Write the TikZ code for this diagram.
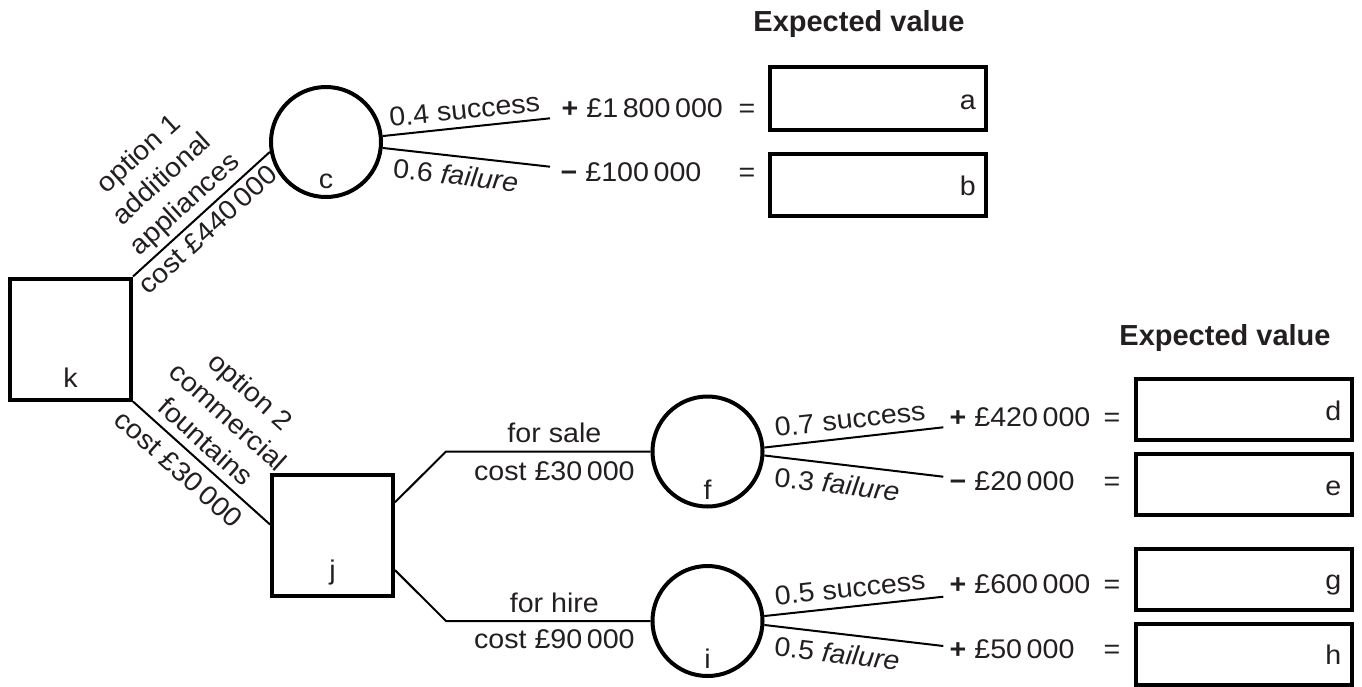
\documentclass[tikz,border=0pt]{standalone}
\usepackage{fontspec}
\setmainfont{Liberation Sans}[FakeStretch=1.06]
\newfontfamily\titlefont{Liberation Sans}
\newcommand\ts{\hspace{0.17em}}
\definecolor{ink}{RGB}{35,31,32}
\begin{document}
\begin{tikzpicture}[x=1pt,y=-1pt,
  every node/.style={font=\fontsize{27}{34}\selectfont, inner sep=0pt, text=ink},
  decision/.style={draw=black, rectangle, line width=4pt, minimum size=121pt},
  chance/.style={draw=black, circle, line width=4pt, minimum size=110pt},
  evbox/.style={draw=black, rectangle, line width=4pt, minimum width=216pt, minimum height=61pt},
  conn/.style={draw=black, line width=2pt},
  title/.style={font=\titlefont\fontsize{29}{34}\selectfont\bfseries, anchor=base},
  val/.style={anchor=base west},
  eqs/.style={anchor=base},
  letter/.style={anchor=base},
  boxletter/.style={anchor=base east}
]
\useasboundingbox (0,0) rectangle (1362,686);

% titles
\node[title] (t1) at (859,31.5) {Expected value};
\node[title] (t2) at (1225,345) {Expected value};

% decision and chance nodes
\node[decision] (k) at (70.5,339) {};
\node[decision] (j) at (332.5,535.5) {};
\node[chance] (c) at (326,142) {};
\node[chance] (f) at (707.5,451.5) {};
\node[chance] (i) at (707.5,621) {};

\node[letter] (kl) at ([yshift=14pt]k.south) {k};
\node[letter] (jl) at ([yshift=19pt]j.south) {j};
\node[letter] (cl) at ([yshift=11pt]c.south) {c};
\node[letter] (fl) at ([yshift=9.5pt]f.south) {f};
\node[letter] (il) at ([yshift=10pt]i.south) {i};

% expected value boxes
\node[evbox, minimum height=63pt] (a) at (878,98.5) {};
\node[evbox, minimum height=62pt] (b) at (878,185) {};
\node[evbox] (d) at (1243.5,409.5) {};
\node[evbox] (e) at (1243.5,484.5) {};
\node[evbox] (g) at (1243.5,579) {};
\node[evbox] (h) at (1243.5,654) {};
\foreach \bx in {a,b,d,e,g,h}
  \node[boxletter] (\bx l) at ([xshift=-12pt,yshift=-10.5pt]\bx.east) {\bx};

% options from k
\draw[conn] (k.north east) --
  node[pos=0.47, sloped, above=4pt, align=center] (o1) {option 1\\additional\\appliances}
  node[pos=0.47, sloped, below=5pt] (o1c) {cost £440\ts000} (c.190);
\draw[conn] (k.south east) --
  node[pos=0.44, sloped, above=8pt, align=center] (o2) {option 2\\commercial\\fountains}
  node[pos=0.43, sloped, below=9pt] (o2c) {cost £30\ts000} (j.170);

% j branches
\coordinate (bx) at (446,0);
\draw[conn] (j.28) -- (bx |- f.west) --
  node[pos=0.53, above=7.5pt] (fs) {for sale}
  node[pos=0.53, below=9pt] (fsc) {cost £30\ts000} (f.west);
\draw[conn] (j.-29) -- (bx |- i.west) --
  node[pos=0.53, above=7.5pt] (fh) {for hire}
  node[pos=0.53, below=8pt] (fhc) {cost £90\ts000} (i.west);

% outcome end points
\coordinate (ca) at (550,118.3);
\coordinate (cb) at (550,166.7);
\coordinate (fa) at (943.3,427.3);
\coordinate (fb) at (943.3,476.7);
\coordinate (ia) at (943.3,596.7);
\coordinate (ib) at (943.3,646);

\draw[conn] (c.6) -- node[pos=0.5, sloped, above=7pt] (cs) {0.4 success} (ca);
\draw[conn] (c.-6) -- node[pos=0.45, sloped, below=8pt] (cf) {0.6 \textit{failure}} (cb);
\draw[conn] (f.4.5) -- node[pos=0.49, sloped, above=8pt] (fsu) {0.7 success} (fa);
\draw[conn] (f.-4.5) -- node[pos=0.42, sloped, below=9pt] (ffa) {0.3 \textit{failure}} (fb);
\draw[conn] (i.5) -- node[pos=0.49, sloped, above=8pt] (isu) {0.5 success} (ia);
\draw[conn] (i.-4) -- node[pos=0.42, sloped, below=9pt] (ifa) {0.5 \textit{failure}} (ib);

% values
\node[val] (va) at (561.5,117) {\textbf{+}\ £1\ts800\ts000};
\node[eqs] (eqa) at (747,117) {=};
\node[val] (vb) at (560.5,181.5) {\textbf{−}\ £100\ts000};
\node[eqs] (eqb) at (747,181.5) {=};
\node[val] (vd) at (949.5,426) {\textbf{+}\ £420\ts000};
\node[eqs] (eqd) at (1112,426) {=};
\node[val] (ve) at (949.5,490) {\textbf{−}\ £20\ts000};
\node[eqs] (eqe) at (1112,490) {=};
\node[val] (vg) at (949.5,593) {\textbf{+}\ £600\ts000};
\node[eqs] (eqg) at (1112,593) {=};
\node[val] (vh) at (949.5,658) {\textbf{+}\ £50\ts000};
\node[eqs] (eqh) at (1112,658) {=};
\end{tikzpicture}
\end{document}
